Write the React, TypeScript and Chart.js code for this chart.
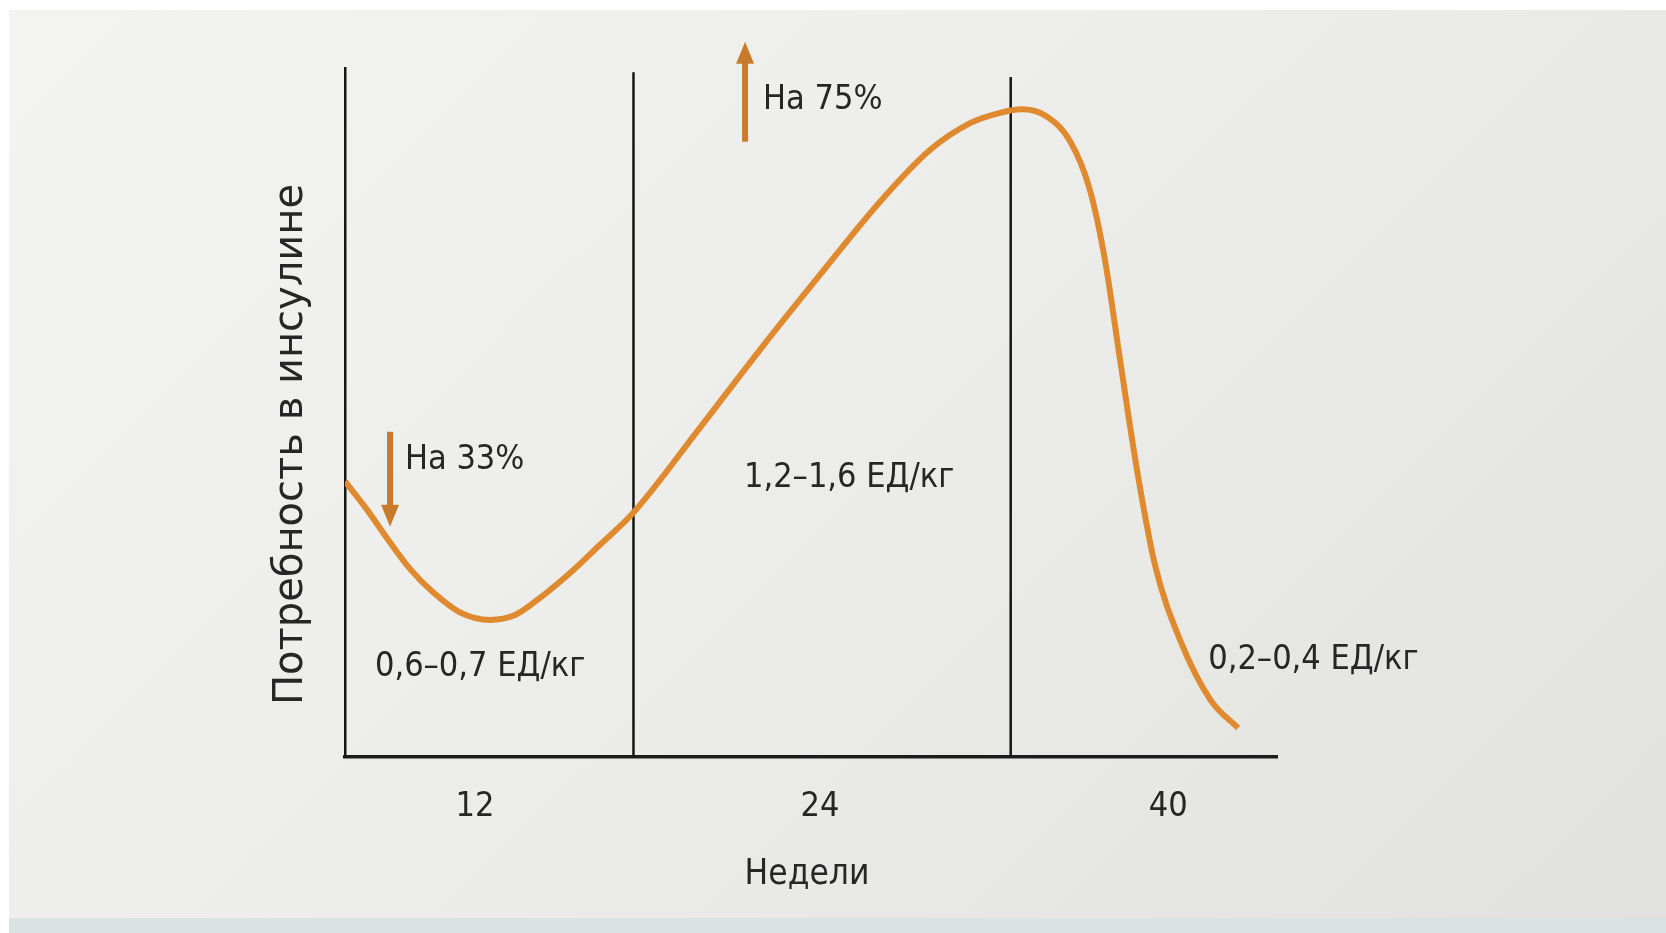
import React, { useEffect, useRef } from "react";
import { Chart, registerables } from "chart.js";

Chart.register(...registerables);

// Position along pregnancy (arbitrary week-like units on the x scale)
const curveX = [0, 0.9, 1.71, 2.93, 3.97, 5.18, 6.53, 7.66, 8.79, 10.14, 11.49, 12.98,
  16.0, 18.7, 21.41, 24.11, 26.36, 28.17, 29.52, 30.51, 31.55, 32.67, 33.57, 34.25, 34.93,
  35.69, 36.5, 37.63, 39.0, 40.24];
// Relative insulin requirement (0..100)
const curveY = [40.0, 36.3, 32.6, 27.3, 23.9, 21.0, 19.9, 20.6, 23.1, 26.7, 30.8, 35.4,
  47.8, 59.1, 70.0, 80.6, 88.1, 92.0, 93.5, 94.0, 93.1, 89.4, 82.3, 72.1, 57.6,
  41.7, 27.9, 17.0, 8.3, 4.2];

// Trimester boundary lines
const boundaryX = [13, 30];
const boundaryTop = [99.4, 98.7];

// Tick labels on the x axis
const tickX = [5.86, 21.4, 37.1];
const tickLabels = ["12", "24", "40"];

// Arrows
const arrowX = [2.03, 18.03];
const arrowFrom = [47.2, 89.3];
const arrowTo = [33.4, 103.8];

// Annotation texts (left-anchored, vertically centered)
const noteTexts = ["На 33%", "На 75%", "1,2–1,6 ЕД/кг", "0,6–0,7 ЕД/кг", "0,2–0,4 ЕД/кг"];
const noteX = [2.7, 18.84, 17.98, 1.35, 38.9];
const noteY = [43.1, 95.4, 40.5, 13.1, 14.1];

const xTitle = "Недели";
const yTitle = "Потребность в инсулине";

const W = 1666;
const H = 933;
const CONDENSED = '"DejaVu Sans Condensed", "DejaVu Sans", sans-serif';
const TEXT = "#262626";

export default function App() {
  const ref = useRef<HTMLCanvasElement | null>(null);

  useEffect(() => {
    document.body.style.margin = "0";
    const canvas = ref.current;
    if (!canvas) return;

    const overlay = {
      id: "overlay",
      afterDraw(chart: any) {
        const ctx = chart.ctx as CanvasRenderingContext2D;
        const xs = chart.scales.x;
        const ys = chart.scales.y;
        ctx.save();
        // arrows
        for (let i = 0; i < arrowX.length; i++) {
          const px = xs.getPixelForValue(arrowX[i]);
          const y0 = ys.getPixelForValue(arrowFrom[i]);
          const y1 = ys.getPixelForValue(arrowTo[i]);
          const dir = y1 > y0 ? 1 : -1;
          const headLen = 22;
          const headW = 9;
          ctx.strokeStyle = "#c97b2c";
          ctx.fillStyle = "#c97b2c";
          ctx.lineWidth = 6;
          ctx.beginPath();
          ctx.moveTo(px, y0);
          ctx.lineTo(px, y1 - dir * headLen * 0.8);
          ctx.stroke();
          ctx.beginPath();
          ctx.moveTo(px, y1);
          ctx.lineTo(px - headW, y1 - dir * headLen);
          ctx.lineTo(px + headW, y1 - dir * headLen);
          ctx.closePath();
          ctx.fill();
        }
        // notes
        ctx.fillStyle = TEXT;
        ctx.font = `34px ${CONDENSED}`;
        ctx.textAlign = "left";
        ctx.textBaseline = "middle";
        for (let i = 0; i < noteTexts.length; i++) {
          ctx.fillText(noteTexts[i], xs.getPixelForValue(noteX[i]), ys.getPixelForValue(noteY[i]));
        }
        // axis titles
        ctx.textAlign = "center";
        ctx.font = `35px ${CONDENSED}`;
        ctx.fillText(xTitle, (xs.left + xs.right) / 2 - 4, 875);
        ctx.save();
        ctx.translate(292, (ys.top + ys.bottom) / 2 + 32);
        ctx.rotate(-Math.PI / 2);
        ctx.font = `40px "DejaVu Sans", sans-serif`;
        ctx.fillText(yTitle, 0, 0);
        ctx.restore();
        ctx.restore();
      },
    };

    const datasets: any[] = [
      {
        data: curveX.map((x, i) => ({ x, y: curveY[i] })),
        borderColor: "#e08a30",
        borderWidth: 6,
        pointRadius: 0,
        cubicInterpolationMode: "monotone",
        fill: false,
      },
      ...boundaryX.map((bx, i) => ({
        data: [
          { x: bx, y: 0 },
          { x: bx, y: boundaryTop[i] },
        ],
        borderColor: "#161616",
        borderWidth: 2.5,
        pointRadius: 0,
        fill: false,
      })),
    ];

    const chart = new Chart(canvas, {
      type: "line",
      data: { datasets },
      options: {
        animation: false,
        responsive: false,
        devicePixelRatio: 1,
        layout: { padding: { left: 0, top: 68, right: W - 1277, bottom: 0 } },
        plugins: { legend: { display: false }, tooltip: { enabled: false } },
        scales: {
          x: {
            type: "linear",
            min: 0,
            max: 42,
            grid: { display: false, drawTicks: false },
            border: { display: true, color: "#1c1c1c", width: 3.5 },
            afterBuildTicks: (scale: any) => {
              scale.ticks = tickX.map((v) => ({ value: v }));
            },
            afterFit: (scale: any) => {
              scale.height = H - 757;
            },
            ticks: {
              autoSkip: false,
              maxRotation: 0,
              padding: 30,
              color: TEXT,
              font: { family: CONDENSED, size: 34 },
              callback: (_v: any, i: number) => tickLabels[i],
            },
          },
          y: {
            type: "linear",
            min: 0,
            max: 100,
            grid: { display: false, drawTicks: false },
            border: { display: true, color: "#161616", width: 2.5 },
            ticks: { display: false },
            afterFit: (scale: any) => {
              scale.width = 345;
            },
          },
        },
      },
      plugins: [overlay],
    });

    return () => chart.destroy();
  }, []);

  return (
    <div style={{ position: "absolute", left: 0, top: 0, width: W, height: H, background: "#ffffff", overflow: "hidden" }}>
      <div
        style={{
          position: "absolute",
          left: 9,
          top: 10,
          width: W - 9,
          height: 908,
          background: "linear-gradient(135deg, #f3f3f1 0%, #ececea 50%, #e1e1dd 100%)",
        }}
      />
      <div style={{ position: "absolute", left: 9, top: 918, width: W - 9, height: 15, background: "#dce1e3" }} />
      <canvas ref={ref} width={W} height={H} style={{ position: "absolute", left: 0, top: 0 }} />
    </div>
  );
}
